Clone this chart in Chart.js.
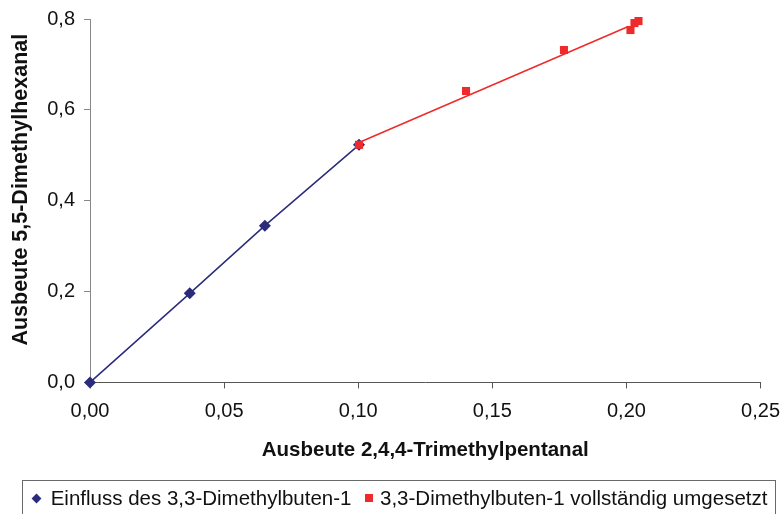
<!DOCTYPE html>
<html>
<head>
<meta charset="utf-8">
<script src="https://cdn.jsdelivr.net/npm/chart.js@4/dist/chart.umd.min.js"></script>
<style>
  html, body { margin: 0; padding: 0; background: #fff; overflow: hidden; }
  #wrap { width: 781px; height: 514px; position: relative; overflow: hidden; }
  #c { position: absolute; left: 0; top: 0; }
  #legend { position: absolute; left: 22px; top: 480px; width: 754px; height: 40px;
            border: 1px solid #6a6a6a; box-sizing: border-box; }
  .lg-text { position: absolute; top: 5px; line-height: 24px; font-size: 20.5px;
             font-family: Arial, "Liberation Sans", sans-serif; color: #111; white-space: nowrap; }
  .lg-mark { position: absolute; }
</style>
</head>
<body>
<div id="wrap">
  <canvas id="c" width="781" height="514"></canvas>
  <div id="legend"></div>
</div>
<script>
// ---- data ----
const seriesNames = ['Einfluss des 3,3-Dimethylbuten-1', '3,3-Dimethylbuten-1 vollständig umgesetzt'];
const blueX = [0.0, 0.0372, 0.0652, 0.1003];
const blueY = [0.0, 0.196, 0.345, 0.523];
const redX = [0.1003, 0.1402, 0.1767, 0.2015, 0.2030, 0.2045];
const redY = [0.523, 0.6415, 0.7317, 0.7757, 0.791, 0.7955];
const trendX = [0.1003, 0.2007];
const trendY = [0.528, 0.7834];
const xTickLabels = ['0,00', '0,05', '0,10', '0,15', '0,20', '0,25'];
const yTickLabels = ['0,0', '0,2', '0,4', '0,6', '0,8'];
const xTitle = 'Ausbeute 2,4,4-Trimethylpentanal';
const yTitle = 'Ausbeute 5,5-Dimethylhexanal';

const toPts = (xs, ys) => xs.map((x, i) => ({ x: x, y: ys[i] }));

const BLUE = '#2a2b7c';
const RED = '#ee2a2a';
const FONT = 'Arial, "Liberation Sans", sans-serif';

// ---- HTML legend (real text) ----
(function buildLegend() {
  const lg = document.getElementById('legend');
  const m1 = document.createElement('div');
  m1.className = 'lg-mark';
  m1.style.cssText = 'left:' + (36.7 - 22 - 3.5 - 1) + 'px;top:' + (498 - 480 - 3.5 - 1) + 'px;width:7px;height:7px;background:' + BLUE + ';transform:rotate(45deg);';
  lg.appendChild(m1);
  const t1 = document.createElement('span');
  t1.className = 'lg-text';
  t1.style.left = (50.7 - 22 - 1) + 'px';
  t1.textContent = seriesNames[0];
  lg.appendChild(t1);
  const m2 = document.createElement('div');
  m2.className = 'lg-mark';
  m2.style.cssText = 'left:' + (369 - 22 - 4 - 1) + 'px;top:' + (498 - 480 - 4 - 1) + 'px;width:8px;height:8px;background:' + RED + ';';
  lg.appendChild(m2);
  const t2 = document.createElement('span');
  t2.className = 'lg-text';
  t2.style.left = (380 - 22 - 1) + 'px';
  t2.textContent = seriesNames[1];
  lg.appendChild(t2);
})();

// y-axis title drawn as text, centred where the reference places it
const yTitlePlugin = {
  id: 'yTitlePlugin',
  afterDraw(chart) {
    const ctx = chart.ctx;
    const area = chart.chartArea;
    ctx.save();
    ctx.translate(21, (area.top + area.bottom) / 2 - 11);
    ctx.rotate(-Math.PI / 2);
    ctx.font = 'bold 21.5px ' + FONT;
    ctx.fillStyle = '#111';
    ctx.textAlign = 'center';
    ctx.textBaseline = 'middle';
    ctx.fillText(yTitle, 0, 0);
    ctx.restore();
  }
};

new Chart(document.getElementById('c'), {
  type: 'scatter',
  data: {
    datasets: [
      {
        label: seriesNames[0],
        data: toPts(blueX, blueY),
        showLine: true,
        clip: false,
        borderColor: BLUE,
        backgroundColor: BLUE,
        borderWidth: 1.5,
        pointStyle: 'rectRot',
        pointRadius: 6,
        pointBorderWidth: 0,
        pointBackgroundColor: BLUE,
        order: 2
      },
      {
        label: seriesNames[1],
        data: toPts(redX, redY),
        showLine: false,
        clip: false,
        borderColor: RED,
        backgroundColor: RED,
        pointStyle: 'rect',
        pointRadius: 5.7,
        pointBorderWidth: 0,
        pointBackgroundColor: RED,
        order: 0
      },
      {
        label: 'trend',
        data: toPts(trendX, trendY),
        showLine: true,
        clip: false,
        borderColor: RED,
        borderWidth: 1.5,
        pointRadius: 0,
        order: 1
      }
    ]
  },
  options: {
    responsive: false,
    animation: false,
    devicePixelRatio: 1,
    layout: { padding: { top: 19, right: 0, left: 0, bottom: 34 } },
    plugins: {
      tooltip: { enabled: false },
      legend: { display: false }
    },
    scales: {
      x: {
        type: 'linear',
        min: 0,
        max: 0.25,
        afterBuildTicks: (s) => { s.ticks = xTickLabels.map((_, i) => ({ value: i * 0.05 })); },
        ticks: {
          callback: (v, i) => xTickLabels[i],
          padding: 1,
          color: '#111',
          font: { family: FONT, size: 20, lineHeight: 2.25 },
          maxRotation: 0
        },
        grid: { drawOnChartArea: false, drawTicks: true, tickLength: 6, color: '#555' },
        border: { color: '#555', width: 1 },
        title: {
          display: true,
          text: xTitle,
          color: '#111',
          font: { family: FONT, size: 20.5, weight: 'bold' },
          padding: { top: 3, bottom: 17 }
        }
      },
      y: {
        type: 'linear',
        min: 0,
        max: 0.8,
        afterBuildTicks: (s) => { s.ticks = yTickLabels.map((_, i) => ({ value: i * 0.2 })); },
        afterFit: (s) => { s.width = 90; },
        ticks: {
          callback: (v, i) => yTickLabels[i],
          padding: 9,
          color: '#111',
          font: { family: FONT, size: 20, lineHeight: 1 }
        },
        grid: { drawOnChartArea: false, drawTicks: true, tickLength: 6, color: '#888' },
        border: { color: '#888', width: 1 },
        title: { display: false, text: yTitle }
      }
    }
  },
  plugins: [yTitlePlugin]
});
</script>
</body>
</html>
